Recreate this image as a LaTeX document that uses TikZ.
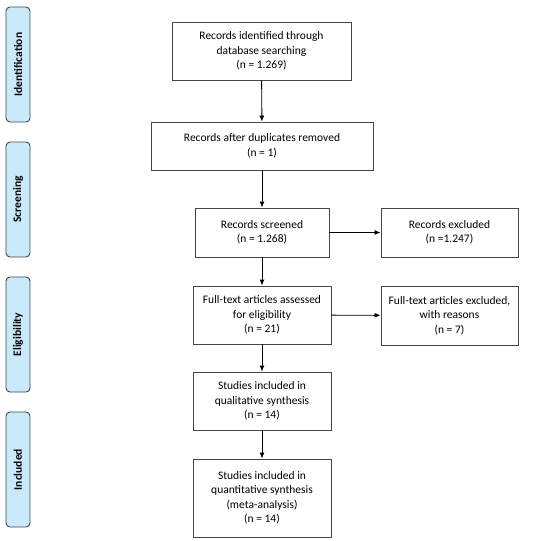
\documentclass[tikz,border=0pt]{standalone}
\usepackage{fontspec}
\setmainfont{Carlito}
\usetikzlibrary{arrows.meta}
\definecolor{barfill}{RGB}{200,234,250}
\definecolor{boxline}{RGB}{70,70,70}
\tikzset{
  flowbox/.style={draw=boxline, line width=0.9pt, fill=white, align=center, font=\fontsize{11.5}{14.5}\selectfont, inner sep=0pt},
  phasebar/.style={draw=boxline, line width=0.9pt, fill=barfill, rounded corners=4pt, inner sep=0pt, minimum width=24pt},
  phaselabel/.style={rotate=90, font=\fontsize{11.5}{13}\selectfont\bfseries},
  flowarrow/.style={-{Latex[length=6pt,width=5pt]}, line width=0.9pt, black}
}
\begin{document}
\begin{tikzpicture}[x=1pt,y=1pt]
\useasboundingbox (0,0) rectangle (550,-541);
% phase bars
\node[phasebar, minimum height=115pt] (pid) at (18,-64.5) {};
\node[phaselabel] (lid) at (pid) {Identification};
\node[phasebar, minimum height=115pt] (psc) at (18,-199.5) {};
\node[phaselabel] (lsc) at (psc) {Screening};
\node[phasebar, minimum height=115pt] (pel) at (18,-334.5) {};
\node[phaselabel] (lel) at (pel) {Eligibility};
\node[phasebar, minimum height=115pt] (pin) at (18,-469.5) {};
\node[phaselabel] (lin) at (pin) {Included};
% boxes
\node[flowbox, minimum width=179pt, minimum height=58pt] (b1) at (261.5,-51) {Records identified through\\database searching\\(n = 1.269)};
\node[flowbox, minimum width=222pt, minimum height=48pt] (b2) at (262,-146) {Records after duplicates removed\\(n = 1)};
\node[flowbox, minimum width=134pt, minimum height=49pt] (b3) at (262,-232.5) {Records screened\\(n = 1.268)};
\node[flowbox, minimum width=137pt, minimum height=49pt] (e1) at (449.5,-232.5) {Records excluded\\(n =1.247)};
\node[flowbox, minimum width=138pt, minimum height=58pt] (b4) at (262,-315) {Full-text articles assessed\\for eligibility\\(n = 21)};
\node[flowbox, minimum width=137pt, minimum height=59pt] (e2) at (449.5,-315.5) {Full-text articles excluded,\\with reasons\\(n = 7)};
\node[flowbox, minimum width=138pt, minimum height=58pt] (b5) at (262,-401) {Studies included in\\qualitative synthesis\\(n = 14)};
\node[flowbox, minimum width=138pt, minimum height=78pt] (b6) at (262,-498) {Studies included in\\quantitative synthesis\\(meta-analysis)\\(n = 14)};
% arrows
\draw[flowarrow] (b1) -- (b2);
\draw[flowarrow] (b2) -- (b3);
\draw[flowarrow] (b3) -- (e1);
\draw[flowarrow] (b3) -- (b4);
\draw[flowarrow] (b4) -- (e2);
\draw[flowarrow] (b4) -- (b5);
\draw[flowarrow] (b5) -- (b6);
\end{tikzpicture}
\end{document}
